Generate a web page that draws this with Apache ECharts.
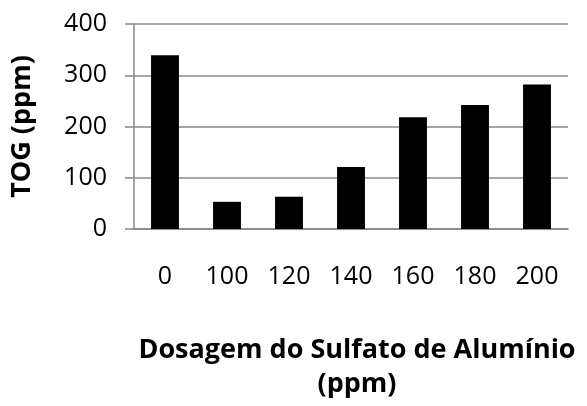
<!DOCTYPE html>
<html><head><meta charset="utf-8">
<script src="https://cdn.jsdelivr.net/npm/echarts@6/dist/echarts.min.js"></script>
<style>html,body{margin:0;padding:0;background:#fff}#c{width:587px;height:406px}</style>
</head><body><div id="c"></div>
<script>
const categories = ['0','100','120','140','160','180','200'];
const togValues = [339, 53, 63, 121, 218, 242, 282];
const yTicks = [0, 100, 200, 300, 400];
const xTitle = 'Dosagem do Sulfato de Alumínio\n(ppm)';
const yTitle = 'TOG (ppm)';

const chart = echarts.init(document.getElementById('c'), null, {renderer:'canvas'});
const font = 'Open Sans';
chart.setOption({
  animation:false,
  grid:{left:134,right:19,top:24,bottom:165,containLabel:false},
  xAxis:{
    type:'category', data:categories,
    axisLine:{show:true,lineStyle:{color:'#888',width:1.5}},
    axisTick:{show:false},
    axisLabel:{color:'#000',fontFamily:font,fontSize:25,margin:35},
    name:xTitle, nameLocation:'middle', nameGap:104,
    nameTextStyle:{color:'#000',fontFamily:font,fontSize:27,fontWeight:'bold',lineHeight:34,padding:[0,0,0,12]}
  },
  yAxis:{
    type:'value', min:yTicks[0], max:yTicks[yTicks.length-1], interval:100,
    axisLine:{show:true,lineStyle:{color:'#888',width:1.5}},
    axisTick:{show:true,length:9,lineStyle:{color:'#888',width:1.5}},
    splitLine:{show:true,lineStyle:{color:'#888',width:1.5}},
    axisLabel:{color:'#000',fontFamily:font,fontSize:25,margin:27},
    name:yTitle, nameLocation:'middle', nameGap:98, nameRotate:90,
    nameTextStyle:{color:'#000',fontFamily:font,fontSize:27,fontWeight:'bold'}
  },
  series:[{type:'bar',data:togValues,barWidth:'45%',itemStyle:{color:'#000'}}]
});
</script></body></html>
